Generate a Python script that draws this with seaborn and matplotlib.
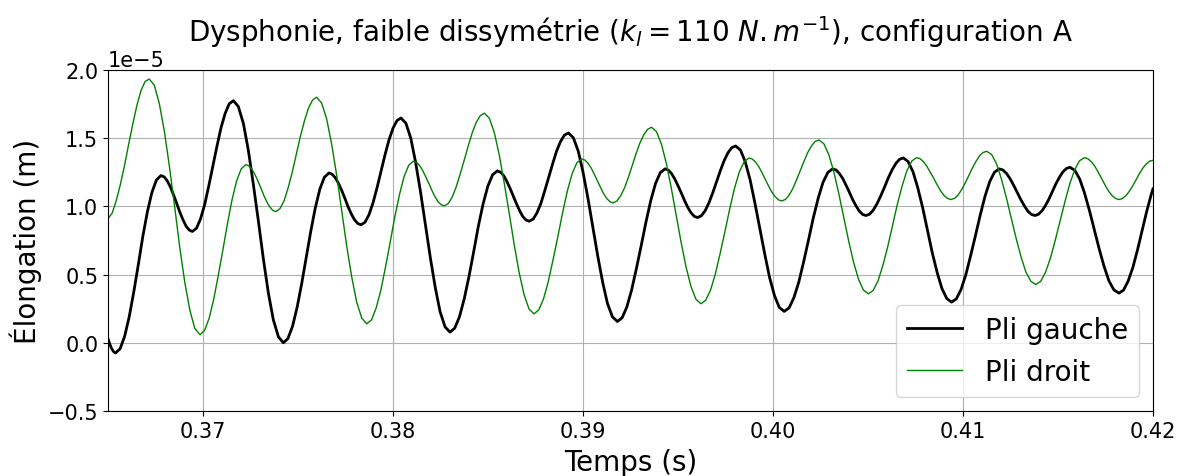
import pandas as pd
import matplotlib.pyplot as plt
import seaborn as sns

# values: time (s) and elongation (x 1e-5 m)
t_gauche = [0.36500, 0.36510, 0.36520, 0.36530, 0.36540,
            0.36564, 0.36588, 0.36612, 0.36636, 0.36660, 0.36683, 0.36707, 0.36731, 0.36755, 0.36779,
            0.36796, 0.36812, 0.36829, 0.36845, 0.36862, 0.36878, 0.36895, 0.36911, 0.36928, 0.36944,
            0.36966, 0.36987, 0.37009, 0.37030, 0.37052, 0.37074, 0.37095, 0.37117, 0.37138, 0.37160,
            0.37186, 0.37213, 0.37239, 0.37265, 0.37292, 0.37318, 0.37344, 0.37370, 0.37397, 0.37423,
            0.37447, 0.37471, 0.37495, 0.37519, 0.37543, 0.37567, 0.37591, 0.37615, 0.37639, 0.37663,
            0.37680, 0.37697, 0.37714, 0.37731, 0.37748, 0.37764, 0.37781, 0.37798, 0.37815, 0.37832,
            0.37853, 0.37874, 0.37895, 0.37916, 0.37937, 0.37958, 0.37979, 0.38000, 0.38021, 0.38042,
            0.38068, 0.38094, 0.38119, 0.38145, 0.38171, 0.38197, 0.38223, 0.38248, 0.38274, 0.38300,
            0.38325, 0.38350, 0.38375, 0.38400, 0.38425, 0.38449, 0.38474, 0.38499, 0.38524, 0.38549,
            0.38566, 0.38583, 0.38599, 0.38616, 0.38633, 0.38650, 0.38667, 0.38683, 0.38700, 0.38717,
            0.38738, 0.38758, 0.38779, 0.38799, 0.38820, 0.38841, 0.38861, 0.38882, 0.38902, 0.38923,
            0.38949, 0.38975, 0.39000, 0.39026, 0.39052, 0.39078, 0.39104, 0.39129, 0.39155, 0.39181,
            0.39206, 0.39231, 0.39256, 0.39281, 0.39307, 0.39332, 0.39357, 0.39382, 0.39407, 0.39432,
            0.39449, 0.39466, 0.39483, 0.39500, 0.39518, 0.39535, 0.39552, 0.39569, 0.39586, 0.39603,
            0.39623, 0.39643, 0.39663, 0.39683, 0.39703, 0.39723, 0.39743, 0.39763, 0.39783, 0.39803,
            0.39829, 0.39854, 0.39880, 0.39905, 0.39931, 0.39957, 0.39982, 0.40008, 0.40033, 0.40059,
            0.40085, 0.40110, 0.40136, 0.40161, 0.40187, 0.40212, 0.40238, 0.40263, 0.40289, 0.40314,
            0.40332, 0.40349, 0.40367, 0.40384, 0.40402, 0.40419, 0.40437, 0.40454, 0.40472, 0.40489,
            0.40509, 0.40528, 0.40548, 0.40568, 0.40588, 0.40607, 0.40627, 0.40647, 0.40666, 0.40686,
            0.40711, 0.40737, 0.40762, 0.40788, 0.40813, 0.40838, 0.40864, 0.40889, 0.40915, 0.40940,
            0.40965, 0.40990, 0.41015, 0.41040, 0.41066, 0.41091, 0.41116, 0.41141, 0.41166, 0.41191,
            0.41210, 0.41229, 0.41247, 0.41266, 0.41285, 0.41304, 0.41323, 0.41341, 0.41360, 0.41379,
            0.41397, 0.41416, 0.41434, 0.41453, 0.41471, 0.41489, 0.41508, 0.41526, 0.41545, 0.41563,
            0.41589, 0.41615, 0.41640, 0.41666, 0.41692, 0.41718, 0.41744, 0.41769, 0.41795, 0.41821,
            0.41845, 0.41869, 0.41894, 0.41918, 0.41942, 0.41966, 0.41990, 0.42000]
y_gauche = [0.030, -0.012, -0.045, -0.066, -0.075,
            -0.043, 0.049, 0.193, 0.375, 0.576, 0.777, 0.958, 1.102, 1.194, 1.226,
            1.216, 1.187, 1.141, 1.084, 1.021, 0.958, 0.901, 0.855, 0.826, 0.816,
            0.840, 0.908, 1.014, 1.147, 1.296, 1.444, 1.577, 1.683, 1.752, 1.775,
            1.732, 1.606, 1.409, 1.162, 0.888, 0.613, 0.366, 0.170, 0.044, 0.000,
            0.031, 0.119, 0.257, 0.430, 0.623, 0.815, 0.988, 1.126, 1.214, 1.245,
            1.236, 1.209, 1.167, 1.114, 1.055, 0.996, 0.943, 0.901, 0.874, 0.865,
            0.884, 0.940, 1.026, 1.136, 1.257, 1.378, 1.487, 1.573, 1.629, 1.648,
            1.610, 1.498, 1.324, 1.106, 0.863, 0.620, 0.402, 0.228, 0.117, 0.078,
            0.107, 0.191, 0.322, 0.486, 0.669, 0.852, 1.016, 1.147, 1.231, 1.260,
            1.251, 1.225, 1.184, 1.133, 1.076, 1.019, 0.967, 0.926, 0.900, 0.891,
            0.907, 0.953, 1.024, 1.115, 1.215, 1.315, 1.405, 1.476, 1.522, 1.538,
            1.504, 1.406, 1.253, 1.061, 0.847, 0.634, 0.441, 0.288, 0.190, 0.156,
            0.183, 0.263, 0.387, 0.543, 0.716, 0.888, 1.044, 1.168, 1.248, 1.275,
            1.266, 1.241, 1.201, 1.152, 1.097, 1.041, 0.992, 0.952, 0.927, 0.918,
            0.931, 0.968, 1.026, 1.099, 1.181, 1.262, 1.335, 1.393, 1.430, 1.443,
            1.413, 1.327, 1.193, 1.024, 0.837, 0.649, 0.480, 0.346, 0.260, 0.230,
            0.256, 0.330, 0.445, 0.591, 0.753, 0.914, 1.060, 1.175, 1.249, 1.275,
            1.267, 1.242, 1.205, 1.157, 1.104, 1.051, 1.004, 0.966, 0.941, 0.933,
            0.943, 0.973, 1.020, 1.079, 1.144, 1.209, 1.268, 1.315, 1.345, 1.355,
            1.329, 1.254, 1.137, 0.990, 0.827, 0.663, 0.516, 0.399, 0.324, 0.298,
            0.322, 0.391, 0.499, 0.636, 0.787, 0.937, 1.074, 1.182, 1.251, 1.275,
            1.267, 1.242, 1.205, 1.157, 1.104, 1.051, 1.004, 0.966, 0.941, 0.933,
            0.942, 0.967, 1.006, 1.055, 1.110, 1.165, 1.214, 1.253, 1.278, 1.287,
            1.264, 1.199, 1.097, 0.968, 0.826, 0.683, 0.554, 0.452, 0.387, 0.364,
            0.386, 0.451, 0.551, 0.677, 0.817, 0.957, 1.083, 1.128]

t_droit = [0.36500, 0.36522, 0.36543, 0.36565, 0.36587, 0.36608, 0.36630, 0.36652, 0.36674, 0.36695, 0.36717,
           0.36744, 0.36770, 0.36797, 0.36824, 0.36851, 0.36877, 0.36904, 0.36931, 0.36957, 0.36984,
           0.37008, 0.37032, 0.37056, 0.37080, 0.37105, 0.37129, 0.37153, 0.37177, 0.37201, 0.37225,
           0.37241, 0.37257, 0.37273, 0.37289, 0.37305, 0.37320, 0.37336, 0.37352, 0.37368, 0.37384,
           0.37405, 0.37427, 0.37448, 0.37470, 0.37491, 0.37512, 0.37534, 0.37555, 0.37577, 0.37598,
           0.37624, 0.37651, 0.37677, 0.37704, 0.37730, 0.37756, 0.37783, 0.37809, 0.37836, 0.37862,
           0.37887, 0.37911, 0.37936, 0.37960, 0.37985, 0.38009, 0.38034, 0.38058, 0.38083, 0.38107,
           0.38123, 0.38140, 0.38156, 0.38172, 0.38189, 0.38205, 0.38221, 0.38237, 0.38254, 0.38270,
           0.38291, 0.38312, 0.38333, 0.38354, 0.38376, 0.38397, 0.38418, 0.38439, 0.38460, 0.38481,
           0.38507, 0.38533, 0.38559, 0.38585, 0.38612, 0.38638, 0.38664, 0.38690, 0.38716, 0.38742,
           0.38767, 0.38792, 0.38817, 0.38842, 0.38868, 0.38893, 0.38918, 0.38943, 0.38968, 0.38993,
           0.39010, 0.39026, 0.39043, 0.39059, 0.39076, 0.39093, 0.39109, 0.39126, 0.39142, 0.39159,
           0.39179, 0.39199, 0.39220, 0.39240, 0.39260, 0.39280, 0.39300, 0.39321, 0.39341, 0.39361,
           0.39387, 0.39413, 0.39439, 0.39465, 0.39491, 0.39517, 0.39543, 0.39569, 0.39595, 0.39621,
           0.39646, 0.39672, 0.39697, 0.39722, 0.39748, 0.39773, 0.39798, 0.39823, 0.39849, 0.39874,
           0.39891, 0.39908, 0.39926, 0.39943, 0.39960, 0.39977, 0.39994, 0.40012, 0.40029, 0.40046,
           0.40066, 0.40085, 0.40105, 0.40124, 0.40144, 0.40164, 0.40183, 0.40203, 0.40222, 0.40242,
           0.40268, 0.40294, 0.40320, 0.40346, 0.40372, 0.40398, 0.40424, 0.40450, 0.40476, 0.40502,
           0.40527, 0.40553, 0.40578, 0.40604, 0.40629, 0.40654, 0.40680, 0.40705, 0.40731, 0.40756,
           0.40774, 0.40792, 0.40810, 0.40828, 0.40847, 0.40865, 0.40883, 0.40901, 0.40919, 0.40937,
           0.40956, 0.40975, 0.40993, 0.41012, 0.41031, 0.41050, 0.41069, 0.41087, 0.41106, 0.41125,
           0.41151, 0.41177, 0.41202, 0.41228, 0.41254, 0.41280, 0.41306, 0.41331, 0.41357, 0.41383,
           0.41409, 0.41434, 0.41460, 0.41485, 0.41511, 0.41537, 0.41562, 0.41588, 0.41613, 0.41639,
           0.41657, 0.41675, 0.41694, 0.41712, 0.41730, 0.41748, 0.41766, 0.41785, 0.41803, 0.41821,
           0.41839, 0.41857, 0.41875, 0.41893, 0.41911, 0.41928, 0.41946, 0.41964, 0.41982, 0.42000]
y_droit = [0.910, 0.950, 1.040, 1.160, 1.300, 1.450, 1.600, 1.740, 1.850, 1.915, 1.934,
           1.888, 1.755, 1.548, 1.286, 0.997, 0.707, 0.445, 0.238, 0.105, 0.059,
           0.090, 0.178, 0.316, 0.490, 0.683, 0.875, 1.049, 1.187, 1.275, 1.306,
           1.298, 1.273, 1.235, 1.187, 1.134, 1.081, 1.033, 0.995, 0.970, 0.962,
           0.983, 1.042, 1.135, 1.252, 1.381, 1.510, 1.627, 1.720, 1.780, 1.800,
           1.759, 1.641, 1.458, 1.226, 0.970, 0.713, 0.481, 0.298, 0.180, 0.139,
           0.168, 0.253, 0.385, 0.551, 0.735, 0.919, 1.085, 1.217, 1.302, 1.331,
           1.323, 1.300, 1.264, 1.218, 1.168, 1.117, 1.071, 1.035, 1.012, 1.004,
           1.021, 1.069, 1.144, 1.239, 1.344, 1.448, 1.543, 1.618, 1.666, 1.683,
           1.647, 1.543, 1.380, 1.175, 0.948, 0.720, 0.515, 0.353, 0.248, 0.212,
           0.240, 0.321, 0.446, 0.605, 0.780, 0.956, 1.114, 1.240, 1.320, 1.348,
           1.340, 1.317, 1.282, 1.237, 1.187, 1.137, 1.092, 1.057, 1.034, 1.026,
           1.040, 1.079, 1.140, 1.217, 1.303, 1.389, 1.466, 1.527, 1.566, 1.580,
           1.548, 1.456, 1.313, 1.133, 0.933, 0.733, 0.553, 0.410, 0.318, 0.286,
           0.312, 0.388, 0.506, 0.655, 0.821, 0.986, 1.135, 1.253, 1.329, 1.355,
           1.347, 1.325, 1.290, 1.246, 1.198, 1.149, 1.105, 1.070, 1.048, 1.040,
           1.051, 1.083, 1.132, 1.194, 1.264, 1.333, 1.395, 1.444, 1.476, 1.487,
           1.459, 1.379, 1.255, 1.097, 0.923, 0.749, 0.592, 0.467, 0.387, 0.359,
           0.383, 0.454, 0.565, 0.704, 0.858, 1.012, 1.151, 1.262, 1.333, 1.357,
           1.350, 1.328, 1.294, 1.251, 1.204, 1.156, 1.113, 1.079, 1.058, 1.050,
           1.059, 1.084, 1.123, 1.172, 1.227, 1.282, 1.331, 1.370, 1.395, 1.404,
           1.380, 1.311, 1.203, 1.066, 0.916, 0.765, 0.628, 0.520, 0.451, 0.427,
           0.450, 0.516, 0.619, 0.748, 0.892, 1.036, 1.165, 1.268, 1.334, 1.357,
           1.350, 1.328, 1.294, 1.251, 1.204, 1.156, 1.113, 1.079, 1.058, 1.050,
           1.057, 1.078, 1.109, 1.150, 1.194, 1.238, 1.279, 1.310, 1.331, 1.338]

gauche = pd.DataFrame({'t': t_gauche, 'x': [v * 1e-5 for v in y_gauche]})
droit = pd.DataFrame({'t': t_droit, 'x': [v * 1e-5 for v in y_droit]})

fig = plt.figure(figsize=(11.88, 4.77), dpi=100)
ax = fig.add_axes([0.0909, 0.1363, 0.8796, 0.7149])

sns.lineplot(data=gauche, x='t', y='x', color='k', linewidth=2,
             label='Pli gauche', estimator=None, ax=ax, solid_joinstyle='round')
sns.lineplot(data=droit, x='t', y='x', color='green', linewidth=1,
             label='Pli droit', estimator=None, ax=ax, solid_joinstyle='round')

ax.set_xlim(0.365, 0.42)
ax.set_ylim(-0.5e-5, 2.0e-5)
ax.grid(True)
ax.tick_params(labelsize=15)
ax.yaxis.get_offset_text().set_fontsize(15)
ax.set_xlabel('Temps (s)', fontsize=20, labelpad=5)
ax.set_ylabel('Élongation (m)', fontsize=20)
ax.set_title(r'Dysphonie, faible dissymétrie ($k_l = 110\ N.m^{-1}$), configuration A',
             fontsize=20, pad=21)
ax.legend(loc='lower right', fontsize=20)

fig.savefig('out.png', dpi=100)
